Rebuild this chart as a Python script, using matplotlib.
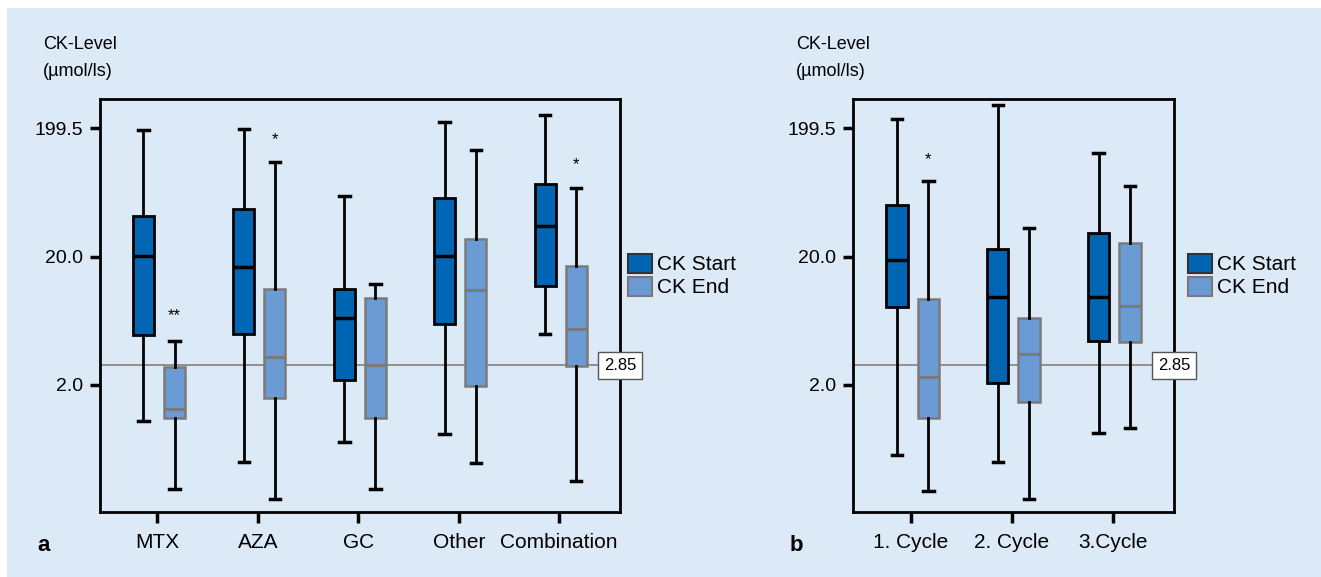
import numpy as np
import matplotlib
matplotlib.use("Agg")
import matplotlib.pyplot as plt
from matplotlib.patches import Patch, Rectangle
from matplotlib.ticker import NullLocator

plt.rcParams['font.family'] = ['Liberation Sans', 'DejaVu Sans']

therapy_labels = ['MTX', 'AZA', 'GC', 'Other', 'Combination']
therapy_start = [
    [1.05, 4.88, 20.3, 41.2, 193.5],
    [0.50, 4.99, 16.7, 47.2, 198.1],
    [0.72, 2.19, 6.61, 11.2, 59.6],
    [0.83, 5.97, 20.3, 57.5, 224.6],
    [4.96, 11.7, 34.8, 73.1, 251.9],
]
therapy_end = [
    [0.31, 1.11, 1.31, 2.78, 4.43],
    [0.26, 1.58, 3.32, 11.1, 109.6],
    [0.31, 1.11, 2.88, 9.57, 12.3],
    [0.49, 1.98, 11.0, 27.6, 134.5],
    [0.36, 2.83, 5.46, 17.0, 68.0],
]
therapy_stars = ['**', '*', '', '', '*']
therapy_star_y = [6.9, 163.8, None, None, 104.6]

cycle_labels = ['1. Cycle', '2. Cycle', '3.Cycle']
cycle_start = [
    [0.57, 8.05, 18.8, 50.4, 237.0],
    [0.50, 2.08, 9.63, 22.8, 303.0],
    [0.85, 4.40, 9.74, 30.7, 128.8],
]
cycle_end = [
    [0.30, 1.11, 2.32, 9.35, 78.0],
    [0.26, 1.48, 3.49, 6.65, 33.4],
    [0.93, 4.32, 8.25, 25.4, 70.5],
]
cycle_stars = ['*', '', '']
cycle_star_y = [114.4, None, None]

ref_value = 2.85
ytick_vals = [2.0, 20.0, 199.5]
ytick_labels = ['2.0', '20.0', '199.5']

bg = '#dce9f7'
c_start = '#0066b3'
c_end = '#6b9bd4'
c_end_edge = '#7a7a7a'

W, H = 1321, 577
fig = plt.figure(figsize=(W / 100, H / 100), dpi=100)
fig.patch.set_facecolor('white')
fig.add_artist(Rectangle((7 / W, 0), 1, 1 - 8 / H, transform=fig.transFigure,
                         facecolor=bg, edgecolor='none', zorder=0))


def to_stats(rows):
    out = []
    for lo, q1, med, q3, hi in rows:
        out.append(dict(whislo=lo, q1=q1, med=med, q3=q3, whishi=hi, fliers=[]))
    return out


def draw_panel(rect, labels, start, end, stars, star_y, letter, ylab_x, leg_x):
    ax = fig.add_axes(rect)
    ax.set_facecolor('none')
    n = len(labels)
    pos = np.arange(n)
    w = 0.21
    ax.axhline(ref_value, color='#808080', lw=1.2, zorder=1)

    ax.bxp(to_stats(start), positions=pos - 0.14, widths=w, capwidths=w * 0.5,
           patch_artist=True, showfliers=False, manage_ticks=False,
           boxprops=dict(facecolor=c_start, edgecolor='black', lw=2),
           medianprops=dict(color='black', lw=2.5),
           whiskerprops=dict(color='black', lw=2),
           capprops=dict(color='black', lw=2.5), zorder=3)
    ax.bxp(to_stats(end), positions=pos + 0.17, widths=w, capwidths=w * 0.5,
           patch_artist=True, showfliers=False, manage_ticks=False,
           boxprops=dict(facecolor=c_end, edgecolor=c_end_edge, lw=1.8),
           medianprops=dict(color=c_end_edge, lw=2.2),
           whiskerprops=dict(color='black', lw=2),
           capprops=dict(color='black', lw=2.5), zorder=3)

    for i, (s, sy) in enumerate(zip(stars, star_y)):
        if s:
            ax.text(pos[i] + 0.17, sy, s, ha='center', va='center', fontsize=12)

    ax.set_yscale('log')
    ax.set_ylim(0.205, 337.4)
    ax.set_xlim(-0.575, n - 1 + 0.61)
    ax.set_yticks(ytick_vals, labels=ytick_labels)
    ax.yaxis.set_minor_locator(NullLocator())
    ax.set_xticks(pos, labels=labels)
    ax.tick_params(axis='y', length=7, width=2.5, labelsize=14, pad=5)
    ax.tick_params(axis='x', length=8, width=2.5, labelsize=15, pad=7)
    for sp in ax.spines.values():
        sp.set_linewidth(2)

    ax.text(1.0, ref_value, '2.85', transform=ax.get_yaxis_transform(),
            ha='center', va='center', fontsize=12, zorder=10, clip_on=False,
            bbox=dict(boxstyle='square,pad=0.35', facecolor='white',
                      edgecolor='#555555', lw=1))

    fig.text(ylab_x / W, 1 - 36 / H, 'CK-Level\n(µmol/ls)', ha='left', va='top',
             fontsize=13, linespacing=1.75)
    fig.text((ylab_x - 6) / W, 1 - 551 / H, letter, ha='left', va='baseline',
             fontsize=16, fontweight='bold')

    handles = [Patch(facecolor=c_start, edgecolor='#333333', lw=1.5),
               Patch(facecolor=c_end, edgecolor=c_end_edge, lw=1.5)]
    fig.legend(handles, ['CK Start', 'CK End'], loc='upper left',
               bbox_to_anchor=(leg_x / W, 1 - 254 / H), frameon=False,
               fontsize=15, handlelength=1.15, handleheight=1.0,
               handletextpad=0.25, labelspacing=0.12, borderpad=0,
               borderaxespad=0)
    return ax


draw_panel([99.7 / W, 1 - 512 / H, 520.7 / W, 413 / H], therapy_labels,
           therapy_start, therapy_end, therapy_stars, therapy_star_y, 'a', 43, 628)
draw_panel([853.1 / W, 1 - 512 / H, 321.2 / W, 413 / H], cycle_labels,
           cycle_start, cycle_end, cycle_stars, cycle_star_y, 'b', 796, 1188)

fig.savefig('out.png', dpi=100)
